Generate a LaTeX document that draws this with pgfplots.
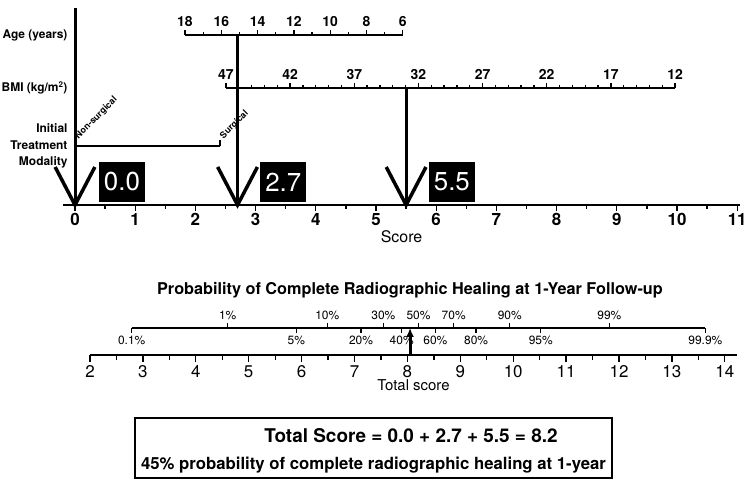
\documentclass[border=0pt]{standalone}
\usepackage{fontspec}
\setmainfont{TeX Gyre Heros}
\usepackage{pgfplots}
\pgfplotsset{compat=1.18}
\usetikzlibrary{arrows.meta}

% nomogram scales: one axis per scale, positions in px of the 750x486 figure
\pgfplotsset{
  nomo/.style={
    /pgf/number format/assume math mode=true,
    clip=false, scale only axis, y=1bp,
    axis y line=none,
    axis line style={line width=1.3bp},
    tick style={line width=1.3bp, black},
    tick align=outside,
  },
}

\begin{document}
\begin{tikzpicture}[x=1bp,y=1bp]
\path[use as bounding box] (0bp,0bp) rectangle (750bp,486bp);

% ---- points axis (Score) ----
\begin{axis}[nomo,
  at={(62.96bp,281bp)}, anchor=south west,
  x=60.2bp, xmin=-0.2, xmax=11.05, ymin=0, ymax=200,
  axis x line*=bottom,
  xtick={0,...,11}, minor xtick={0.5,1.5,...,10.5},
  major tick length=6bp, minor tick length=4bp,
  xticklabel style={font=\fontsize{17}{17}\selectfont\bfseries, yshift=1bp},
  xlabel={Score}, xlabel style={font=\fontsize{16}{16}\selectfont, yshift=2bp},
]
\addplot[line width=3bp] coordinates {(0,197) (0,0)};
\addplot[line width=3bp] coordinates {(2.7,170) (2.7,0)};
\addplot[line width=3bp] coordinates {(5.5,117) (5.5,0)};
\addplot[line width=3.5bp, line join=miter] coordinates {(-0.33,38) (0,0) (0.33,38)};
\addplot[line width=3.5bp, line join=miter] coordinates {(2.37,38) (2.7,0) (3.03,38)};
\addplot[line width=3.5bp, line join=miter] coordinates {(5.17,38) (5.5,0) (5.83,38)};
\node[fill=black, text=white, minimum width=46bp, minimum height=40bp, inner sep=0pt,
  font=\fontsize{26}{26}\selectfont] at (axis cs:0.78,23) {0.0};
\node[fill=black, text=white, minimum width=46bp, minimum height=40bp, inner sep=0pt,
  font=\fontsize{26}{26}\selectfont] at (axis cs:3.46,23) {2.7};
\node[fill=black, text=white, minimum width=46bp, minimum height=40bp, inner sep=0pt,
  font=\fontsize{26}{26}\selectfont] at (axis cs:6.26,23) {5.5};
\end{axis}

% ---- Age ----
\begin{axis}[nomo,
  at={(185bp,451bp)}, anchor=north west,
  x=18.15bp, xmin=6, xmax=18, ymin=-1, ymax=0, x dir=reverse,
  axis x line*=top,
  xtick={6,8,...,18}, minor xtick={7,9,...,17},
  major tick length=5bp, minor tick length=3bp,
  xticklabel style={font=\fontsize{14}{14}\selectfont\bfseries},
]
\end{axis}

% ---- BMI ----
\begin{axis}[nomo,
  at={(226bp,398bp)}, anchor=north west,
  x=12.83bp, xmin=12, xmax=47, ymin=-1, ymax=0, x dir=reverse,
  axis x line*=top,
  xtick={12,17,...,47}, minor xtick={13,...,46},
  major tick length=5bp, minor tick length=3bp,
  xticklabel style={font=\fontsize{14}{14}\selectfont\bfseries},
]
\end{axis}

% ---- Initial treatment modality ----
\begin{axis}[nomo,
  at={(75bp,340bp)}, anchor=north west,
  x=145bp, xmin=0, xmax=1, ymin=-1, ymax=0,
  axis x line*=top,
  xtick={0,1}, xticklabels={Non-surgical,Surgical},
  major tick length=6bp,
  xticklabel style={rotate=45, anchor=south west, inner sep=1pt, yshift=-5bp, xshift=2bp,
    font=\fontsize{9}{9}\selectfont\bfseries},
]
\end{axis}

\node[anchor=east, font=\fontsize{12}{13}\selectfont\bfseries] at (71bp,451bp) {Age (years)};
\node[anchor=east, font=\fontsize{12}{13}\selectfont\bfseries] at (71bp,398bp) {BMI (kg/m\textsuperscript{2})};
\node[anchor=east, align=right, font=\fontsize{12}{16.5}\selectfont\bfseries] at (71bp,340bp) {Initial\\Treatment\\Modality};

% ---- Total score ----
\begin{axis}[nomo,
  at={(90bp,131bp)}, anchor=south west,
  x=52.9bp, xmin=2, xmax=14.23, ymin=0, ymax=27,
  axis x line*=bottom,
  xtick={2,...,14}, minor xtick={2.5,3.5,...,13.5},
  major tick length=7bp, minor tick length=5bp,
  xticklabel style={font=\fontsize{17}{17}\selectfont},
  xlabel={Total score}, xlabel style={font=\fontsize{15}{15}\selectfont, yshift=5bp},
]
\addplot[line width=3bp, -{Latex[length=9bp,width=8bp]}] coordinates {(8.05,0) (8.05,27)};
\end{axis}

% ---- probability scale (labels above) ----
\begin{axis}[nomo,
  at={(131.7bp,158bp)}, anchor=north west,
  x=52.9bp, xmin=2.788, xmax=13.632, ymin=-1, ymax=0,
  axis x line*=top,
  xtick={4.603,6.485,7.545,8.21,8.875,9.935,11.817},
  xticklabels={1\%,10\%,30\%,50\%,70\%,90\%,99\%},
  major tick length=5bp,
  xticklabel style={font=\fontsize{12}{12}\selectfont},
]
\end{axis}

% ---- probability scale (labels below) ----
\begin{axis}[nomo,
  at={(131.7bp,158bp)}, anchor=south west,
  x=52.9bp, xmin=2.788, xmax=13.632, ymin=0, ymax=1,
  axis x line*=bottom,
  xtick={2.788,5.899,7.122,7.892,8.528,9.298,10.521,13.632},
  xticklabels={0.1\%,5\%,20\%,40\%,60\%,80\%,95\%,99.9\%},
  major tick length=5bp,
  xticklabel style={font=\fontsize{12}{12}\selectfont},
]
\end{axis}

\node[font=\fontsize{16.3}{16}\selectfont\bfseries] at (410bp,196bp)
  {Probability of Complete Radiographic Healing at 1-Year Follow-up};

\node[draw, line width=2bp, minimum width=477bp, minimum height=60bp] at (373.5bp,38bp) {};
\node[font=\fontsize{19}{20}\selectfont\bfseries] at (411bp,50bp)
  {Total Score = 0.0 + 2.7 + 5.5 = 8.2};
\node[font=\fontsize{16.8}{17}\selectfont\bfseries] at (373.5bp,21bp)
  {45\% probability of complete radiographic healing at 1-year};

\end{tikzpicture}
\end{document}
